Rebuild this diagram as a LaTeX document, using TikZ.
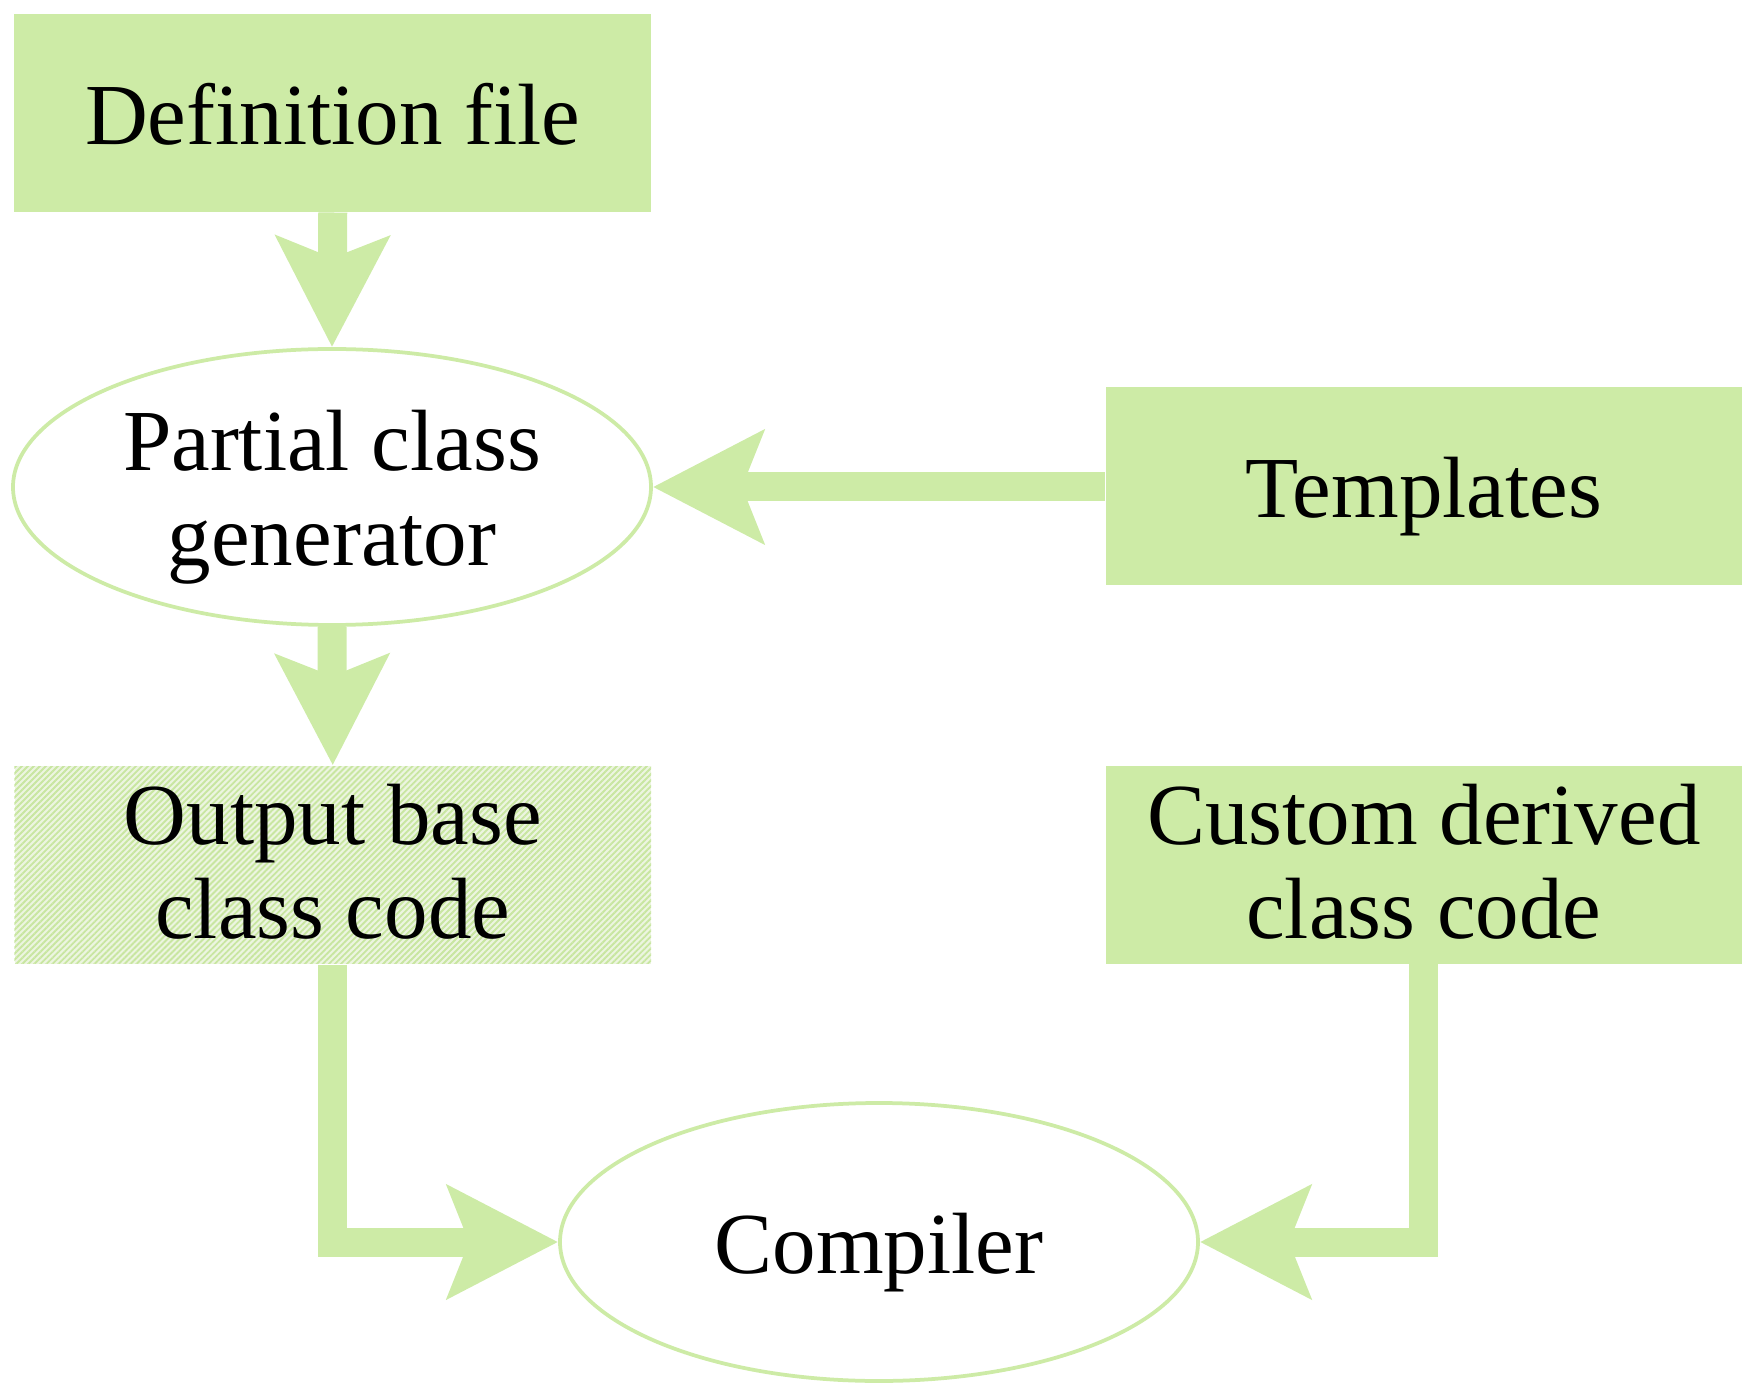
\documentclass[tikz,border=0pt]{standalone}
\usepackage{fontspec}
\setmainfont{Liberation Serif}
\usetikzlibrary{shapes.geometric,arrows.meta,patterns.meta}
\definecolor{lgreen}{RGB}{205,235,166}
\definecolor{pgreen}{RGB}{236,245,224}
\definecolor{hgreen}{RGB}{200,230,160}
\begin{document}
\begin{tikzpicture}[x=0.4pt,y=-0.4pt,
  txt/.style={font=\fontsize{34.8}{37.6}\selectfont, text=black, align=center, text height=30pt, text depth=5.2pt},
  twoline/.style={text height=60pt, text depth=1.6pt},
  box/.style={txt, rectangle, fill=lgreen, draw=none, minimum width=254.6pt, minimum height=79pt, inner sep=0pt},
  hatchbox/.style={txt, rectangle, pattern={Lines[angle=45, distance=1.7pt, line width=0.75pt]}, pattern color=hgreen, draw=none, minimum width=254.6pt, minimum height=79pt, inner sep=0pt},
  oval/.style={txt, ellipse, draw=lgreen, line width=1.5pt, fill=white, minimum width=255.2pt, minimum height=110.4pt, inner sep=0pt},
  flow/.style={draw=lgreen, line width=11.6pt, line join=miter,
    -{Stealth[length=44pt, width=44.6pt, inset=8.4pt, fill=lgreen, color=lgreen]}}
]
\useasboundingbox (0,0) rectangle (1751,1383);
\node[box] (def) at (332.75,113.25) {Definition file};
\node[oval, text height=64pt, text depth=0.8pt, font=\fontsize{34.8}{38}\selectfont] (gen) at (332,487) {Partial class\\generator};
\node[box] (tpl) at (1423.75,486.25) {Templates};
\fill[pgreen] (14.5,766) rectangle (651,964);
\node[hatchbox, twoline] (out) at (332.75,865) {Output base\\class code};
\node[box, twoline] (cust) at (1423.75,865) {Custom derived\\class code};
\node[oval, minimum height=111.2pt] (comp) at (879,1242) {Compiler};

\draw[flow] (def.south) -- (gen.north);
\draw[flow] (tpl.west |- gen.east) -- (gen.east);
\draw[flow] (gen.south) -- (out.north);
\draw[flow] (out.south) |- (comp.west);
\draw[flow] (cust.south) |- (comp.east);
\end{tikzpicture}
\end{document}
